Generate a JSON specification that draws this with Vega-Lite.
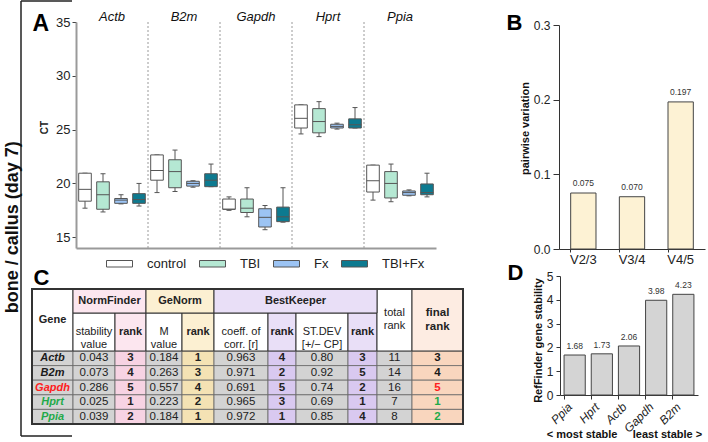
{
  "$schema": "https://vega.github.io/schema/vega-lite/v6.json",
  "width": 708,
  "height": 442,
  "autosize": {"type": "none"},
  "padding": 0,
  "background": "#ffffff",
  "config": {"view": {"stroke": null}, "font": "Liberation Sans"},
  "datasets": {
    "ct": [
      {"gene":"Actb","group":"control","min":17.7,"q1":18.35,"median":19.45,"q3":20.95,"max":20.95},
      {"gene":"Actb","group":"TBI","min":17.35,"q1":17.6,"median":18.95,"q3":20.15,"max":20.9},
      {"gene":"Actb","group":"Fx","min":18.1,"q1":18.15,"median":18.45,"q3":18.6,"max":18.95},
      {"gene":"Actb","group":"TBI+Fx","min":17.9,"q1":18.15,"median":18.5,"q3":19.05,"max":20.0},
      {"gene":"B2m","group":"control","min":19.15,"q1":20.3,"median":21.2,"q3":22.65,"max":22.65},
      {"gene":"B2m","group":"TBI","min":19.25,"q1":19.6,"median":21.1,"q3":22.2,"max":23.1},
      {"gene":"B2m","group":"Fx","min":19.65,"q1":19.75,"median":20.0,"q3":20.2,"max":20.25},
      {"gene":"B2m","group":"TBI+Fx","min":19.7,"q1":19.7,"median":20.3,"q3":20.9,"max":21.8},
      {"gene":"Gapdh","group":"control","min":17.5,"q1":17.6,"median":17.6,"q3":18.55,"max":18.75},
      {"gene":"Gapdh","group":"TBI","min":16.9,"q1":17.3,"median":17.7,"q3":18.55,"max":19.6},
      {"gene":"Gapdh","group":"Fx","min":15.7,"q1":15.95,"median":16.85,"q3":17.65,"max":17.95},
      {"gene":"Gapdh","group":"TBI+Fx","min":16.4,"q1":16.45,"median":16.9,"q3":17.8,"max":19.6},
      {"gene":"Hprt","group":"control","min":24.6,"q1":25.15,"median":26.05,"q3":27.3,"max":27.3},
      {"gene":"Hprt","group":"TBI","min":24.35,"q1":24.7,"median":25.75,"q3":26.95,"max":27.6},
      {"gene":"Hprt","group":"Fx","min":25.05,"q1":25.15,"median":25.3,"q3":25.5,"max":25.6},
      {"gene":"Hprt","group":"TBI+Fx","min":25.15,"q1":25.15,"median":25.45,"q3":26.0,"max":27.05},
      {"gene":"Ppia","group":"control","min":18.45,"q1":19.2,"median":20.25,"q3":21.7,"max":21.7},
      {"gene":"Ppia","group":"TBI","min":18.3,"q1":18.65,"median":20.0,"q3":21.1,"max":21.8},
      {"gene":"Ppia","group":"Fx","min":18.85,"q1":18.9,"median":19.15,"q3":19.3,"max":19.4},
      {"gene":"Ppia","group":"TBI+Fx","min":18.75,"q1":18.95,"median":19.15,"q3":19.95,"max":20.95}
    ],
    "gv": [
      {"pair":"V2/3","v":0.075},
      {"pair":"V3/4","v":0.070},
      {"pair":"V4/5","v":0.197}
    ],
    "rf": [
      {"gene":"Ppia","score":1.68},
      {"gene":"Hprt","score":1.73},
      {"gene":"Actb","score":2.06},
      {"gene":"Gapdh","score":3.98},
      {"gene":"B2m","score":4.23}
    ],
    "tbl": [
      {"gene":"Actb","nf_val":0.043,"nf_rank":3,"gn_val":0.184,"gn_rank":1,"bk_r":0.963,"bk_rank_r":4,"bk_sd":0.80,"bk_rank_sd":3,"total":11,"final":3},
      {"gene":"B2m","nf_val":0.073,"nf_rank":4,"gn_val":0.263,"gn_rank":3,"bk_r":0.971,"bk_rank_r":2,"bk_sd":0.92,"bk_rank_sd":5,"total":14,"final":4},
      {"gene":"Gapdh","nf_val":0.286,"nf_rank":5,"gn_val":0.557,"gn_rank":4,"bk_r":0.691,"bk_rank_r":5,"bk_sd":0.74,"bk_rank_sd":2,"total":16,"final":5},
      {"gene":"Hprt","nf_val":0.025,"nf_rank":1,"gn_val":0.223,"gn_rank":2,"bk_r":0.965,"bk_rank_r":3,"bk_sd":0.69,"bk_rank_sd":1,"total":7,"final":1},
      {"gene":"Ppia","nf_val":0.039,"nf_rank":2,"gn_val":0.184,"gn_rank":1,"bk_r":0.972,"bk_rank_r":1,"bk_sd":0.85,"bk_rank_sd":4,"total":8,"final":2}
    ]
  },
  "resolve": {
    "scale": {"x": "independent", "y": "independent", "color": "independent"},
    "axis": {"x": "independent", "y": "independent"}
  },
  "layer": [
    {
      "data": {"values": [{"label": "bone / callus (day 7)"}]},
      "layer": [
        {"mark": {"type": "rule", "color": "#222", "strokeWidth": 1.5},
         "encoding": {
           "x": {"datum": 0, "type": "quantitative", "scale": {"domain": [0, 1], "range": [21, 72]}, "axis": null},
           "y": {"datum": 0, "type": "quantitative", "scale": {"domain": [0, 1], "range": [1, 436]}, "axis": null},
           "y2": {"datum": 1}}},
        {"mark": {"type": "rule", "color": "#222", "strokeWidth": 1.5},
         "encoding": {
           "x": {"datum": 0, "type": "quantitative", "axis": null}, "x2": {"datum": 1},
           "y": {"datum": 0, "type": "quantitative", "axis": null}}},
        {"mark": {"type": "rule", "color": "#222", "strokeWidth": 1.5},
         "encoding": {
           "x": {"datum": 0, "type": "quantitative", "axis": null}, "x2": {"datum": 1},
           "y": {"datum": 1, "type": "quantitative", "axis": null}}},
        {"mark": {"type": "text", "angle": 270, "fontSize": 18, "fontWeight": "bold", "align": "center", "baseline": "alphabetic", "dy": -3, "color": "#111"},
         "encoding": {
           "x": {"datum": 0, "type": "quantitative", "axis": null},
           "y": {"datum": 0.52, "type": "quantitative", "axis": null},
           "text": {"field": "label"}}}
      ]
    },
    {
      "data": {"name": "ct"},
      "encoding": {
        "x": {"field": "gene", "type": "nominal",
              "scale": {"type": "band", "domain": ["Actb","B2m","Gapdh","Hprt","Ppia"], "range": [76, 436], "paddingInner": 0, "paddingOuter": 0},
              "axis": {"orient": "bottom", "offset": -194, "labels": false, "ticks": false, "domain": true, "domainColor": "#9a9a9a", "domainWidth": 2,
                       "grid": false,
                       "title": "A", "titleX": 32, "titleY": -218, "titleAlign": "left", "titleBaseline": "alphabetic",
                       "titleFontSize": 23, "titleFontWeight": "bold", "titleColor": "#000"}}
      },
      "layer": [
        {"transform": [{"filter": "datum.group === 'control' && datum.gene !== 'Actb'"}],
         "mark": {"type": "rule", "color": "#9a9a9a", "strokeWidth": 1, "strokeDash": [2, 2]},
         "encoding": {
           "x": {"field": "gene", "type": "nominal", "bandPosition": 0},
           "y": {"datum": 14, "type": "quantitative", "scale": {"domain": [14, 35], "range": [248, 22], "nice": false, "zero": false}, "axis": null},
           "y2": {"datum": 35}}},
        {"mark": {"type": "rule", "color": "#555", "strokeWidth": 1, "opacity": 1},
         "encoding": {
           "xOffset": {"field": "group", "type": "nominal", "scale": {"domain": ["control","TBI","Fx","TBI+Fx"], "paddingInner": 0.3, "paddingOuter": 0.15}},
           "y": {"field": "min", "type": "quantitative", "axis": null},
           "y2": {"field": "max"}}},
        {"mark": {"type": "tick", "color": "#555", "size": 5, "thickness": 1, "opacity": 1},
         "encoding": {
           "xOffset": {"field": "group", "type": "nominal", "scale": {"domain": ["control","TBI","Fx","TBI+Fx"], "paddingInner": 0.3, "paddingOuter": 0.15}},
           "y": {"field": "min", "type": "quantitative", "axis": null}}},
        {"mark": {"type": "tick", "color": "#555", "size": 5, "thickness": 1, "opacity": 1},
         "encoding": {
           "xOffset": {"field": "group", "type": "nominal", "scale": {"domain": ["control","TBI","Fx","TBI+Fx"], "paddingInner": 0.3, "paddingOuter": 0.15}},
           "y": {"field": "max", "type": "quantitative", "axis": null}}},
        {"mark": {"type": "bar", "stroke": "#555", "strokeWidth": 1, "opacity": 1},
         "encoding": {
           "xOffset": {"field": "group", "type": "nominal", "scale": {"domain": ["control","TBI","Fx","TBI+Fx"], "paddingInner": 0.3, "paddingOuter": 0.15}},
           "y": {"field": "q1", "type": "quantitative",
                 "axis": {"orient": "left", "offset": -76, "values": [15, 20, 25, 30, 35], "grid": false,
                          "domainColor": "#9a9a9a", "domainWidth": 2, "tickColor": "#444", "tickSize": 4, "tickWidth": 1,
                          "labelFontSize": 13, "labelColor": "#222", "labelPadding": 2,
                          "title": "CT", "titleFontSize": 10, "titleFontWeight": "bold", "titleColor": "#222", "titlePadding": 6, "titleY": 127}},
           "y2": {"field": "q3"},
           "color": {"field": "group", "type": "nominal",
                     "scale": {"domain": ["control","TBI","Fx","TBI+Fx"], "range": ["#ffffff", "#b5e8d3", "#9cc4f4", "#0d7a90"]},
                     "legend": {"orient": "none", "legendX": 106, "legendY": 250, "direction": "horizontal", "title": null,
                                "symbolType": "M-1,-0.25H1V0.25H-1Z", "symbolSize": 676, "symbolStrokeColor": "#555", "symbolStrokeWidth": 1, "symbolOpacity": 1,
                                "labelFontSize": 13, "labelColor": "#222", "labelOffset": 14, "columnPadding": 10, "padding": 0}}}},
        {"mark": {"type": "tick", "color": "#555", "size": 12.6, "thickness": 1, "opacity": 1},
         "encoding": {
           "xOffset": {"field": "group", "type": "nominal", "scale": {"domain": ["control","TBI","Fx","TBI+Fx"], "paddingInner": 0.3, "paddingOuter": 0.15}},
           "y": {"field": "median", "type": "quantitative", "axis": null}}},
        {"transform": [{"filter": "datum.group === 'control'"}],
         "mark": {"type": "text", "fontStyle": "italic", "fontSize": 13, "baseline": "alphabetic", "dy": -1, "color": "#111"},
         "encoding": {
           "y": {"datum": 35, "type": "quantitative", "axis": null},
           "text": {"field": "gene"}}}
      ],
      "resolve": {"axis": {"y": "independent"}}
    },
    {
      "data": {"name": "gv"},
      "encoding": {
        "x": {"field": "pair", "type": "nominal",
              "scale": {"type": "band", "domain": ["V2/3","V3/4","V4/5"], "range": [559, 705], "paddingInner": 0.48, "paddingOuter": 0.24},
              "axis": {"orient": "bottom", "offset": -193, "labelAngle": 0, "labelFontSize": 13, "labelColor": "#222", "labelPadding": 1,
                       "tickSize": 3, "tickColor": "#333", "domainColor": "#333", "domainWidth": 1, "grid": false, "bandPosition": 0,
                       "title": "B", "titleX": 506, "titleY": -220, "titleAlign": "left", "titleBaseline": "alphabetic",
                       "titleFontSize": 22, "titleFontWeight": "bold", "titleColor": "#000"}},
        "y": {"field": "v", "type": "quantitative",
              "scale": {"domain": [0, 0.3], "range": [249, 25], "nice": false, "zero": false},
              "axis": {"orient": "left", "offset": -559, "values": [0, 0.1, 0.2, 0.3], "format": ".1f", "grid": false,
                       "labelFontSize": 12, "labelColor": "#222", "tickSize": 6, "labelPadding": 3, "tickColor": "#333", "domainColor": "#333",
                       "title": "pairwise variation", "titleFontSize": 11, "titleFontWeight": "bold", "titleColor": "#111", "titleY": 128, "titlePadding": 3}}
      },
      "layer": [
        {"mark": {"type": "bar", "fill": "#fdf2d4", "stroke": "#444", "strokeWidth": 1, "opacity": 1}},
        {"mark": {"type": "text", "fontSize": 8.5, "dy": -10, "color": "#333"},
         "encoding": {"text": {"field": "v", "type": "quantitative", "format": ".3f"}}}
      ]
    },
    {
      "layer": [
        {"data": {"name": "tbl"}, "transform": [{"fold": ["gene"], "as": ["col", "val"]}],
         "encoding": {
           "x": {"field": "col", "type": "nominal", "scale": {"domain": ["gene"], "range": [32, 73], "paddingInner": 0, "paddingOuter": 0}, "axis": null},
           "y": {"field": "gene", "type": "nominal", "scale": {"domain": ["Actb","B2m","Gapdh","Hprt","Ppia"], "range": [351, 424], "paddingInner": 0, "paddingOuter": 0}, "axis": null}},
         "layer": [
           {"mark": {"type": "rect", "fill": "#d3d3d3", "stroke": "#666", "strokeWidth": 0.8}},
           {"mark": {"type": "text", "fontSize": 11, "fontWeight": "bold", "fontStyle": "italic"},
            "encoding": {"text": {"field": "val", "type": "nominal"},
                         "color": {"field": "gene", "type": "nominal", "scale": {"domain": ["Actb","B2m","Gapdh","Hprt","Ppia"], "range": ["#1a1a1a","#1a1a1a","#ff2020","#1faa4a","#1faa4a"]}, "legend": null}}}
         ]},
        {"data": {"values": [{"col": "gene", "row": "h", "label": "Gene"}]},
         "encoding": {
           "x": {"field": "col", "type": "nominal", "scale": {"domain": ["gene"], "range": [32, 73], "paddingInner": 0, "paddingOuter": 0}, "axis": null},
           "y": {"field": "row", "type": "nominal", "scale": {"domain": ["h"], "range": [289, 351], "paddingInner": 0, "paddingOuter": 0}, "axis": null}},
         "layer": [
           {"mark": {"type": "rect", "fill": "#ffffff", "stroke": "#333", "strokeWidth": 1}},
           {"mark": {"type": "text", "fontSize": 11, "fontWeight": "bold", "color": "#222"}, "encoding": {"text": {"field": "label"}}}
         ]}
      ],
      "resolve": {"scale": {"y": "independent"}}
    },
    {
      "layer": [
        {"data": {"name": "tbl"}, "transform": [{"fold": ["nf_val"], "as": ["col", "val"]}],
         "encoding": {
           "x": {"field": "col", "type": "nominal", "scale": {"domain": ["nf_val"], "range": [73, 115], "paddingInner": 0, "paddingOuter": 0}, "axis": null},
           "y": {"field": "gene", "type": "nominal", "scale": {"domain": ["Actb","B2m","Gapdh","Hprt","Ppia"], "range": [351, 424], "paddingInner": 0, "paddingOuter": 0}, "axis": null}},
         "layer": [
           {"mark": {"type": "rect", "fill": "#d3d3d3", "stroke": "#666", "strokeWidth": 0.8}},
           {"mark": {"type": "text", "fontSize": 11.5, "color": "#222"}, "encoding": {"text": {"field": "val", "type": "quantitative", "format": ".3f"}}}
         ]},
        {"data": {"values": [{"col": "nf_val", "row": "h", "label": "stability\nvalue"}]},
         "encoding": {
           "x": {"field": "col", "type": "nominal", "scale": {"domain": ["nf_val"], "range": [73, 115], "paddingInner": 0, "paddingOuter": 0}, "axis": null},
           "y": {"field": "row", "type": "nominal", "scale": {"domain": ["h"], "range": [313, 351], "paddingInner": 0, "paddingOuter": 0}, "axis": null}},
         "layer": [
           {"mark": {"type": "rect", "fill": "#ffffff", "stroke": "#333", "strokeWidth": 1}},
           {"mark": {"type": "text", "fontSize": 11, "color": "#222", "lineBreak": "\n", "lineHeight": 13}, "encoding": {"text": {"field": "label"}}}
         ]}
      ],
      "resolve": {"scale": {"y": "independent"}}
    },
    {
      "layer": [
        {"data": {"name": "tbl"}, "transform": [{"fold": ["nf_rank"], "as": ["col", "val"]}],
         "encoding": {
           "x": {"field": "col", "type": "nominal", "scale": {"domain": ["nf_rank"], "range": [115, 146], "paddingInner": 0, "paddingOuter": 0}, "axis": null},
           "y": {"field": "gene", "type": "nominal", "scale": {"domain": ["Actb","B2m","Gapdh","Hprt","Ppia"], "range": [351, 424], "paddingInner": 0, "paddingOuter": 0}, "axis": null}},
         "layer": [
           {"mark": {"type": "rect", "fill": "#f7d3e3", "stroke": "#666", "strokeWidth": 0.8}},
           {"mark": {"type": "text", "fontSize": 11.5, "fontWeight": "bold", "color": "#222"}, "encoding": {"text": {"field": "val", "type": "quantitative", "format": "d"}}}
         ]},
        {"data": {"values": [{"col": "nf_rank", "row": "h", "label": "rank"}]},
         "encoding": {
           "x": {"field": "col", "type": "nominal", "scale": {"domain": ["nf_rank"], "range": [115, 146], "paddingInner": 0, "paddingOuter": 0}, "axis": null},
           "y": {"field": "row", "type": "nominal", "scale": {"domain": ["h"], "range": [313, 351], "paddingInner": 0, "paddingOuter": 0}, "axis": null}},
         "layer": [
           {"mark": {"type": "rect", "fill": "#fce6ef", "stroke": "#333", "strokeWidth": 1}},
           {"mark": {"type": "text", "fontSize": 11, "fontWeight": "bold", "color": "#222"}, "encoding": {"text": {"field": "label"}}}
         ]}
      ],
      "resolve": {"scale": {"y": "independent"}}
    },
    {
      "layer": [
        {"data": {"name": "tbl"}, "transform": [{"fold": ["gn_val"], "as": ["col", "val"]}],
         "encoding": {
           "x": {"field": "col", "type": "nominal", "scale": {"domain": ["gn_val"], "range": [146, 182], "paddingInner": 0, "paddingOuter": 0}, "axis": null},
           "y": {"field": "gene", "type": "nominal", "scale": {"domain": ["Actb","B2m","Gapdh","Hprt","Ppia"], "range": [351, 424], "paddingInner": 0, "paddingOuter": 0}, "axis": null}},
         "layer": [
           {"mark": {"type": "rect", "fill": "#d3d3d3", "stroke": "#666", "strokeWidth": 0.8}},
           {"mark": {"type": "text", "fontSize": 11.5, "color": "#222"}, "encoding": {"text": {"field": "val", "type": "quantitative", "format": ".3f"}}}
         ]},
        {"data": {"values": [{"col": "gn_val", "row": "h", "label": "M\nvalue"}]},
         "encoding": {
           "x": {"field": "col", "type": "nominal", "scale": {"domain": ["gn_val"], "range": [146, 182], "paddingInner": 0, "paddingOuter": 0}, "axis": null},
           "y": {"field": "row", "type": "nominal", "scale": {"domain": ["h"], "range": [313, 351], "paddingInner": 0, "paddingOuter": 0}, "axis": null}},
         "layer": [
           {"mark": {"type": "rect", "fill": "#ffffff", "stroke": "#333", "strokeWidth": 1}},
           {"mark": {"type": "text", "fontSize": 11, "color": "#222", "lineBreak": "\n", "lineHeight": 13}, "encoding": {"text": {"field": "label"}}}
         ]}
      ],
      "resolve": {"scale": {"y": "independent"}}
    },
    {
      "layer": [
        {"data": {"name": "tbl"}, "transform": [{"fold": ["gn_rank"], "as": ["col", "val"]}],
         "encoding": {
           "x": {"field": "col", "type": "nominal", "scale": {"domain": ["gn_rank"], "range": [182, 214], "paddingInner": 0, "paddingOuter": 0}, "axis": null},
           "y": {"field": "gene", "type": "nominal", "scale": {"domain": ["Actb","B2m","Gapdh","Hprt","Ppia"], "range": [351, 424], "paddingInner": 0, "paddingOuter": 0}, "axis": null}},
         "layer": [
           {"mark": {"type": "rect", "fill": "#f4e2b4", "stroke": "#666", "strokeWidth": 0.8}},
           {"mark": {"type": "text", "fontSize": 11.5, "fontWeight": "bold", "color": "#222"}, "encoding": {"text": {"field": "val", "type": "quantitative", "format": "d"}}}
         ]},
        {"data": {"values": [{"col": "gn_rank", "row": "h", "label": "rank"}]},
         "encoding": {
           "x": {"field": "col", "type": "nominal", "scale": {"domain": ["gn_rank"], "range": [182, 214], "paddingInner": 0, "paddingOuter": 0}, "axis": null},
           "y": {"field": "row", "type": "nominal", "scale": {"domain": ["h"], "range": [313, 351], "paddingInner": 0, "paddingOuter": 0}, "axis": null}},
         "layer": [
           {"mark": {"type": "rect", "fill": "#fcf0d2", "stroke": "#333", "strokeWidth": 1}},
           {"mark": {"type": "text", "fontSize": 11, "fontWeight": "bold", "color": "#222"}, "encoding": {"text": {"field": "label"}}}
         ]}
      ],
      "resolve": {"scale": {"y": "independent"}}
    },
    {
      "layer": [
        {"data": {"name": "tbl"}, "transform": [{"fold": ["bk_r"], "as": ["col", "val"]}],
         "encoding": {
           "x": {"field": "col", "type": "nominal", "scale": {"domain": ["bk_r"], "range": [214, 268], "paddingInner": 0, "paddingOuter": 0}, "axis": null},
           "y": {"field": "gene", "type": "nominal", "scale": {"domain": ["Actb","B2m","Gapdh","Hprt","Ppia"], "range": [351, 424], "paddingInner": 0, "paddingOuter": 0}, "axis": null}},
         "layer": [
           {"mark": {"type": "rect", "fill": "#d3d3d3", "stroke": "#666", "strokeWidth": 0.8}},
           {"mark": {"type": "text", "fontSize": 11.5, "color": "#222"}, "encoding": {"text": {"field": "val", "type": "quantitative", "format": ".3f"}}}
         ]},
        {"data": {"values": [{"col": "bk_r", "row": "h", "label": "coeff. of\ncorr. [r]"}]},
         "encoding": {
           "x": {"field": "col", "type": "nominal", "scale": {"domain": ["bk_r"], "range": [214, 268], "paddingInner": 0, "paddingOuter": 0}, "axis": null},
           "y": {"field": "row", "type": "nominal", "scale": {"domain": ["h"], "range": [313, 351], "paddingInner": 0, "paddingOuter": 0}, "axis": null}},
         "layer": [
           {"mark": {"type": "rect", "fill": "#ffffff", "stroke": "#333", "strokeWidth": 1}},
           {"mark": {"type": "text", "fontSize": 11, "color": "#222", "lineBreak": "\n", "lineHeight": 13}, "encoding": {"text": {"field": "label"}}}
         ]}
      ],
      "resolve": {"scale": {"y": "independent"}}
    },
    {
      "layer": [
        {"data": {"name": "tbl"}, "transform": [{"fold": ["bk_rank_r"], "as": ["col", "val"]}],
         "encoding": {
           "x": {"field": "col", "type": "nominal", "scale": {"domain": ["bk_rank_r"], "range": [268, 296], "paddingInner": 0, "paddingOuter": 0}, "axis": null},
           "y": {"field": "gene", "type": "nominal", "scale": {"domain": ["Actb","B2m","Gapdh","Hprt","Ppia"], "range": [351, 424], "paddingInner": 0, "paddingOuter": 0}, "axis": null}},
         "layer": [
           {"mark": {"type": "rect", "fill": "#d9c9f0", "stroke": "#666", "strokeWidth": 0.8}},
           {"mark": {"type": "text", "fontSize": 11.5, "fontWeight": "bold", "color": "#222"}, "encoding": {"text": {"field": "val", "type": "quantitative", "format": "d"}}}
         ]},
        {"data": {"values": [{"col": "bk_rank_r", "row": "h", "label": "rank"}]},
         "encoding": {
           "x": {"field": "col", "type": "nominal", "scale": {"domain": ["bk_rank_r"], "range": [268, 296], "paddingInner": 0, "paddingOuter": 0}, "axis": null},
           "y": {"field": "row", "type": "nominal", "scale": {"domain": ["h"], "range": [313, 351], "paddingInner": 0, "paddingOuter": 0}, "axis": null}},
         "layer": [
           {"mark": {"type": "rect", "fill": "#e9dff7", "stroke": "#333", "strokeWidth": 1}},
           {"mark": {"type": "text", "fontSize": 11, "fontWeight": "bold", "color": "#222"}, "encoding": {"text": {"field": "label"}}}
         ]}
      ],
      "resolve": {"scale": {"y": "independent"}}
    },
    {
      "layer": [
        {"data": {"name": "tbl"}, "transform": [{"fold": ["bk_sd"], "as": ["col", "val"]}],
         "encoding": {
           "x": {"field": "col", "type": "nominal", "scale": {"domain": ["bk_sd"], "range": [296, 348], "paddingInner": 0, "paddingOuter": 0}, "axis": null},
           "y": {"field": "gene", "type": "nominal", "scale": {"domain": ["Actb","B2m","Gapdh","Hprt","Ppia"], "range": [351, 424], "paddingInner": 0, "paddingOuter": 0}, "axis": null}},
         "layer": [
           {"mark": {"type": "rect", "fill": "#d3d3d3", "stroke": "#666", "strokeWidth": 0.8}},
           {"mark": {"type": "text", "fontSize": 11.5, "color": "#222"}, "encoding": {"text": {"field": "val", "type": "quantitative", "format": ".2f"}}}
         ]},
        {"data": {"values": [{"col": "bk_sd", "row": "h", "label": "ST.DEV\n[+/− CP]"}]},
         "encoding": {
           "x": {"field": "col", "type": "nominal", "scale": {"domain": ["bk_sd"], "range": [296, 348], "paddingInner": 0, "paddingOuter": 0}, "axis": null},
           "y": {"field": "row", "type": "nominal", "scale": {"domain": ["h"], "range": [313, 351], "paddingInner": 0, "paddingOuter": 0}, "axis": null}},
         "layer": [
           {"mark": {"type": "rect", "fill": "#ffffff", "stroke": "#333", "strokeWidth": 1}},
           {"mark": {"type": "text", "fontSize": 11, "color": "#222", "lineBreak": "\n", "lineHeight": 13}, "encoding": {"text": {"field": "label"}}}
         ]}
      ],
      "resolve": {"scale": {"y": "independent"}}
    },
    {
      "layer": [
        {"data": {"name": "tbl"}, "transform": [{"fold": ["bk_rank_sd"], "as": ["col", "val"]}],
         "encoding": {
           "x": {"field": "col", "type": "nominal", "scale": {"domain": ["bk_rank_sd"], "range": [348, 377], "paddingInner": 0, "paddingOuter": 0}, "axis": null},
           "y": {"field": "gene", "type": "nominal", "scale": {"domain": ["Actb","B2m","Gapdh","Hprt","Ppia"], "range": [351, 424], "paddingInner": 0, "paddingOuter": 0}, "axis": null}},
         "layer": [
           {"mark": {"type": "rect", "fill": "#d9c9f0", "stroke": "#666", "strokeWidth": 0.8}},
           {"mark": {"type": "text", "fontSize": 11.5, "fontWeight": "bold", "color": "#222"}, "encoding": {"text": {"field": "val", "type": "quantitative", "format": "d"}}}
         ]},
        {"data": {"values": [{"col": "bk_rank_sd", "row": "h", "label": "rank"}]},
         "encoding": {
           "x": {"field": "col", "type": "nominal", "scale": {"domain": ["bk_rank_sd"], "range": [348, 377], "paddingInner": 0, "paddingOuter": 0}, "axis": null},
           "y": {"field": "row", "type": "nominal", "scale": {"domain": ["h"], "range": [313, 351], "paddingInner": 0, "paddingOuter": 0}, "axis": null}},
         "layer": [
           {"mark": {"type": "rect", "fill": "#e9dff7", "stroke": "#333", "strokeWidth": 1}},
           {"mark": {"type": "text", "fontSize": 11, "fontWeight": "bold", "color": "#222"}, "encoding": {"text": {"field": "label"}}}
         ]}
      ],
      "resolve": {"scale": {"y": "independent"}}
    },
    {
      "layer": [
        {"data": {"name": "tbl"}, "transform": [{"fold": ["total"], "as": ["col", "val"]}],
         "encoding": {
           "x": {"field": "col", "type": "nominal", "scale": {"domain": ["total"], "range": [377, 412], "paddingInner": 0, "paddingOuter": 0}, "axis": null},
           "y": {"field": "gene", "type": "nominal", "scale": {"domain": ["Actb","B2m","Gapdh","Hprt","Ppia"], "range": [351, 424], "paddingInner": 0, "paddingOuter": 0}, "axis": null}},
         "layer": [
           {"mark": {"type": "rect", "fill": "#d3d3d3", "stroke": "#666", "strokeWidth": 0.8}},
           {"mark": {"type": "text", "fontSize": 11.5, "color": "#222"}, "encoding": {"text": {"field": "val", "type": "quantitative", "format": "d"}}}
         ]},
        {"data": {"values": [{"col": "total", "row": "h", "label": "total\nrank"}]},
         "encoding": {
           "x": {"field": "col", "type": "nominal", "scale": {"domain": ["total"], "range": [377, 412], "paddingInner": 0, "paddingOuter": 0}, "axis": null},
           "y": {"field": "row", "type": "nominal", "scale": {"domain": ["h"], "range": [289, 351], "paddingInner": 0, "paddingOuter": 0}, "axis": null}},
         "layer": [
           {"mark": {"type": "rect", "fill": "#ffffff", "stroke": "#333", "strokeWidth": 1}},
           {"mark": {"type": "text", "fontSize": 11, "color": "#222", "lineBreak": "\n", "lineHeight": 13, "dy": -7}, "encoding": {"text": {"field": "label"}}}
         ]}
      ],
      "resolve": {"scale": {"y": "independent"}}
    },
    {
      "layer": [
        {"data": {"name": "tbl"}, "transform": [{"fold": ["final"], "as": ["col", "val"]}],
         "encoding": {
           "x": {"field": "col", "type": "nominal", "scale": {"domain": ["final"], "range": [412, 463], "paddingInner": 0, "paddingOuter": 0}, "axis": null},
           "y": {"field": "gene", "type": "nominal", "scale": {"domain": ["Actb","B2m","Gapdh","Hprt","Ppia"], "range": [351, 424], "paddingInner": 0, "paddingOuter": 0}, "axis": null}},
         "layer": [
           {"mark": {"type": "rect", "fill": "#f9d6be", "stroke": "#666", "strokeWidth": 0.8}},
           {"mark": {"type": "text", "fontSize": 11.5, "fontWeight": "bold"},
            "encoding": {"text": {"field": "val", "type": "quantitative", "format": "d"},
                         "color": {"field": "gene", "type": "nominal", "scale": {"domain": ["Actb","B2m","Gapdh","Hprt","Ppia"], "range": ["#1a1a1a","#1a1a1a","#ff2020","#1faa4a","#1faa4a"]}, "legend": null}}}
         ]},
        {"data": {"values": [{"col": "final", "row": "h", "label": "final\nrank"}]},
         "encoding": {
           "x": {"field": "col", "type": "nominal", "scale": {"domain": ["final"], "range": [412, 463], "paddingInner": 0, "paddingOuter": 0}, "axis": null},
           "y": {"field": "row", "type": "nominal", "scale": {"domain": ["h"], "range": [289, 351], "paddingInner": 0, "paddingOuter": 0}, "axis": null}},
         "layer": [
           {"mark": {"type": "rect", "fill": "#fdece2", "stroke": "#333", "strokeWidth": 1}},
           {"mark": {"type": "text", "fontSize": 11.5, "fontWeight": "bold", "color": "#222", "lineBreak": "\n", "lineHeight": 14, "dy": -7}, "encoding": {"text": {"field": "label"}}}
         ]}
      ],
      "resolve": {"scale": {"y": "independent"}}
    },
    {
      "data": {"values": [{"grp": "NormFinder"}]},
      "encoding": {
        "x": {"field": "grp", "type": "nominal", "scale": {"domain": ["NormFinder"], "range": [73, 146], "paddingInner": 0, "paddingOuter": 0}, "axis": null},
        "y": {"field": "grp", "type": "nominal", "scale": {"domain": ["NormFinder"], "range": [289, 313], "paddingInner": 0, "paddingOuter": 0}, "axis": null}},
      "layer": [
        {"mark": {"type": "rect", "fill": "#fce6ef", "stroke": "#333", "strokeWidth": 1}},
        {"mark": {"type": "text", "fontSize": 11, "fontWeight": "bold", "color": "#222"}, "encoding": {"text": {"field": "grp"}}}
      ]
    },
    {
      "data": {"values": [{"grp": "GeNorm"}]},
      "encoding": {
        "x": {"field": "grp", "type": "nominal", "scale": {"domain": ["GeNorm"], "range": [146, 214], "paddingInner": 0, "paddingOuter": 0}, "axis": null},
        "y": {"field": "grp", "type": "nominal", "scale": {"domain": ["GeNorm"], "range": [289, 313], "paddingInner": 0, "paddingOuter": 0}, "axis": null}},
      "layer": [
        {"mark": {"type": "rect", "fill": "#fcf0d2", "stroke": "#333", "strokeWidth": 1}},
        {"mark": {"type": "text", "fontSize": 11, "fontWeight": "bold", "color": "#222"}, "encoding": {"text": {"field": "grp"}}}
      ]
    },
    {
      "data": {"values": [{"grp": "BestKeeper"}]},
      "encoding": {
        "x": {"field": "grp", "type": "nominal", "scale": {"domain": ["BestKeeper"], "range": [214, 377], "paddingInner": 0, "paddingOuter": 0}, "axis": null},
        "y": {"field": "grp", "type": "nominal", "scale": {"domain": ["BestKeeper"], "range": [289, 313], "paddingInner": 0, "paddingOuter": 0}, "axis": null}},
      "layer": [
        {"mark": {"type": "rect", "fill": "#e9dff7", "stroke": "#333", "strokeWidth": 1}},
        {"mark": {"type": "text", "fontSize": 11, "fontWeight": "bold", "color": "#222"}, "encoding": {"text": {"field": "grp"}}}
      ]
    },
    {
      "data": {"values": [{"t": "table"}]},
      "mark": {"type": "rect", "fill": null, "fillOpacity": 0, "stroke": "#333", "strokeWidth": 2},
      "encoding": {
        "x": {"field": "t", "type": "nominal", "scale": {"domain": ["table"], "range": [32, 463], "paddingInner": 0, "paddingOuter": 0},
              "axis": {"orient": "top", "labels": false, "ticks": false, "domain": false, "grid": false,
                       "title": "C", "titleX": 33, "titleY": 284, "titleAlign": "left", "titleBaseline": "alphabetic",
                       "titleFontSize": 22, "titleFontWeight": "bold", "titleColor": "#000"}},
        "y": {"field": "t", "type": "nominal", "scale": {"domain": ["table"], "range": [289, 424], "paddingInner": 0, "paddingOuter": 0}, "axis": null}
      }
    },
    {
      "data": {"name": "rf"},
      "encoding": {
        "x": {"field": "gene", "type": "nominal",
              "scale": {"type": "band", "domain": ["Ppia","Hprt","Actb","Gapdh","B2m"], "range": [560, 698], "paddingInner": 0.22, "paddingOuter": 0.15},
              "axis": {"orient": "bottom", "offset": -47, "labelAngle": -45, "labelAlign": "right", "labelBaseline": "top", "labelOffset": -8,
                       "labelFontStyle": "italic", "labelFontSize": 12, "labelColor": "#222", "labelPadding": 2,
                       "tickSize": 4, "tickColor": "#333", "domainColor": "#333", "grid": false, "bandPosition": 0,
                       "title": "< most stable\u00a0\u00a0\u00a0\u00a0\u00a0least stable >", "titleX": 624, "titleY": 42, "titleAlign": "center", "titleBaseline": "alphabetic",
                       "titleFontSize": 11, "titleFontWeight": "bold", "titleColor": "#111"}},
        "y": {"field": "score", "type": "quantitative",
              "scale": {"domain": [0, 5], "range": [395, 276], "nice": false, "zero": false},
              "axis": {"orient": "left", "offset": -560, "values": [0, 1, 2, 3, 4, 5], "grid": false,
                       "labelFontSize": 12, "labelColor": "#222", "tickSize": 4, "labelPadding": 3, "tickColor": "#333", "domainColor": "#333",
                       "title": "RefFinder gene stability", "titleFontSize": 11, "titleFontWeight": "bold", "titleColor": "#111", "titleY": 340, "titlePadding": 3}}
      },
      "layer": [
        {"mark": {"type": "bar", "fill": "#d4d4d4", "stroke": "#444", "strokeWidth": 1, "opacity": 1}},
        {"mark": {"type": "text", "fontSize": 8.5, "dy": -9, "color": "#333"},
         "encoding": {
           "x": {"field": "gene", "type": "nominal",
                 "scale": {"type": "band", "domain": ["Ppia","Hprt","Actb","Gapdh","B2m"], "range": [560, 698], "paddingInner": 0.22, "paddingOuter": 0.15},
                 "axis": {"orient": "top", "labels": false, "ticks": false, "domain": false, "grid": false,
                          "title": "D", "titleX": 507, "titleY": 279, "titleAlign": "left", "titleBaseline": "alphabetic",
                          "titleFontSize": 22, "titleFontWeight": "bold", "titleColor": "#000"}},
           "y": {"field": "score", "type": "quantitative", "axis": null},
           "text": {"field": "score", "type": "quantitative", "format": ".2f"}}}
      ],
      "resolve": {"axis": {"x": "independent", "y": "independent"}}
    }
  ]
}
